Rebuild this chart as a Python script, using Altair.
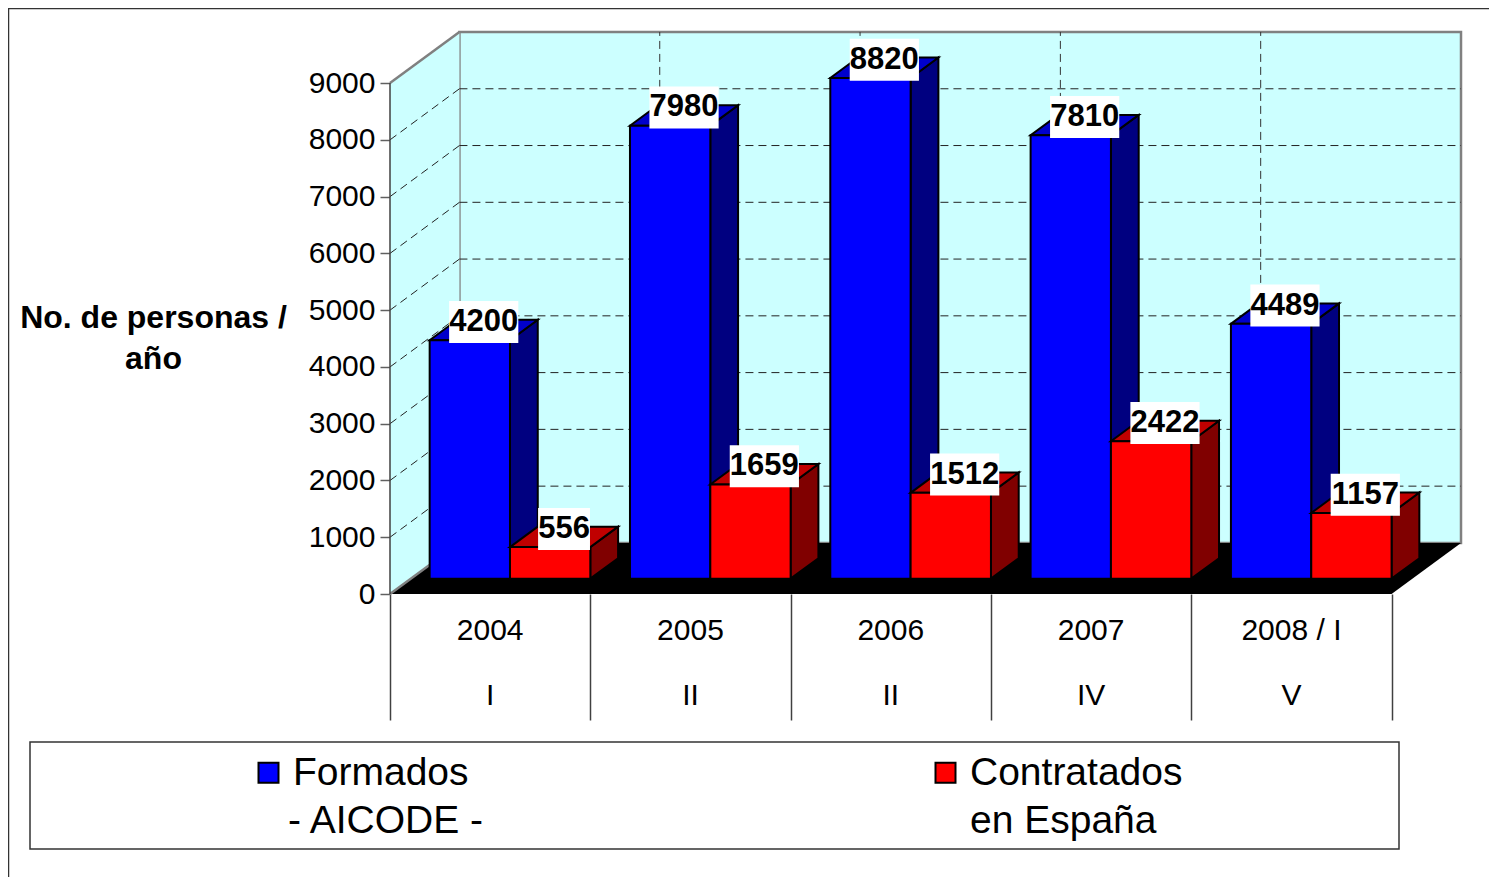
import altair as alt
import pandas as pd

# ---------- data ----------
years = ["2004", "2005", "2006", "2007", "2008 / I"]
phases = ["I", "II", "II", "IV", "V"]
formados = [4200, 7980, 8820, 7810, 4489]
contratados = [556, 1659, 1512, 2422, 1157]
series_names = ["Formados", "Contratados"]
series_second_lines = ["- AICODE -", "en España"]
y_ticks = [0, 1000, 2000, 3000, 4000, 5000, 6000, 7000, 8000, 9000]

# ---------- layout / projection ----------
FONT = "Liberation Sans"
W, H = 1071, 562
PAD_L, PAD_T = 382, 24
TOTAL_W, TOTAL_H = 1481, 869
DEPTH_Y = 900.0               # value units the back wall sits above the front
DEPTH_X = 0.3466              # category units the back wall sits right of the front
X_MAX = 5 + DEPTH_X
Y_MAX = 9000 + DEPTH_Y
PX_X = X_MAX / W
PX_Y = Y_MAX / H
D0, D1 = 0.3, 0.7             # bar depth range on the floor
GAP = 0.198                   # left gap of bar pair (in front plane)
BAR = 0.4010                  # bar width

xs = alt.Scale(domain=[0, X_MAX], nice=False, zero=False)
ys = alt.Scale(domain=[0, Y_MAX], nice=False, zero=False)


def X(f, **kw):
    return alt.X(f, type="quantitative", scale=xs, axis=None, title=None, stack=None, **kw)


def Y(f, **kw):
    return alt.Y(f, type="quantitative", scale=ys, axis=None, title=None, stack=None, **kw)


# ---------- tables ----------
bars = []
for s, vals in enumerate([formados, contratados]):
    for i, v in enumerate(vals):
        xl = i + GAP + s * BAR
        bars.append(dict(id=f"{s}-{i}", s=s, i=i, v=v, name=series_names[s], xl=xl, xr=xl + BAR,
                         y0=D0 * DEPTH_Y, y1=v + D0 * DEPTH_Y))
bars = pd.DataFrame(bars)

side_rows, top_rows = [], []
for r in bars.itertuples():
    shift = (D1 - D0) * DEPTH_X
    up = (D1 - D0) * DEPTH_Y
    side_rows += [dict(id=r.id, s=r.s, x=r.xr, lo=r.y0, hi=r.y1),
                  dict(id=r.id, s=r.s, x=r.xr + shift, lo=r.y0 + up, hi=r.y1 + up)]
    top_rows += [dict(id=r.id, s=r.s, y=r.y1, a=r.xl, b=r.xr),
                 dict(id=r.id, s=r.s, y=r.y1 + up, a=r.xl + shift, b=r.xr + shift)]
sides = pd.DataFrame(side_rows)
tops = pd.DataFrame(top_rows)

labels = bars.copy()
labels["cx"] = (labels.xl + labels.xr) / 2 + (D1 - D0) * DEPTH_X / 2
labels["cy"] = labels.y1 + (D1 - D0) * DEPTH_Y / 2 + 8 * PX_Y
labels["hw"] = labels.v.astype(str).str.len() * 8.65 * PX_X
labels["bx0"] = labels.cx - labels.hw
labels["bx1"] = labels.cx + labels.hw
labels["by0"] = labels.cy - 21 * PX_Y
labels["by1"] = labels.cy + 21 * PX_Y
labels["cyt"] = labels.cy

left_wall = pd.DataFrame({"x": [0, DEPTH_X], "lo": [0, DEPTH_Y], "hi": [9000, Y_MAX]})
back_wall = pd.DataFrame({"x": [DEPTH_X], "x2": [X_MAX], "y": [DEPTH_Y], "y2": [Y_MAX]})
floor = pd.DataFrame({"y": [0, DEPTH_Y], "a": [0, DEPTH_X], "b": [5, X_MAX]})
grid_vals = [t for t in y_ticks if 0 < t < 9000]
grid_back = pd.DataFrame({"x": DEPTH_X, "x2": X_MAX, "y": [t + DEPTH_Y for t in grid_vals]})
grid_left = pd.DataFrame({"x": 0.0, "x2": DEPTH_X, "y": grid_vals, "y2": [t + DEPTH_Y for t in grid_vals]})
grid_vert = pd.DataFrame({"x": [i + DEPTH_X for i in range(1, 5)], "y": DEPTH_Y, "y2": Y_MAX})
edges = pd.DataFrame({"x": [0.0, 0.0], "x2": [DEPTH_X, DEPTH_X], "y": [9000, 0], "y2": [Y_MAX, DEPTH_Y]})
cats = pd.DataFrame({"x": [i + 0.5 for i in range(5)], "year": years, "phase": phases})

DASH = [8, 5]
GREY = "#808080"

# ---------- layers ----------
frame_left = alt.Chart(pd.DataFrame({"a": [0]})).mark_rule(color="#333333", strokeWidth=1.5).encode(
    x=alt.value(-PAD_L + 0.5), y=alt.value(-PAD_T), y2=alt.value(TOTAL_H))
frame_top = alt.Chart(pd.DataFrame({"a": [0]})).mark_rule(color="#333333", strokeWidth=1.5).encode(
    x=alt.value(-PAD_L), x2=alt.value(TOTAL_W), y=alt.value(-PAD_T + 0.5))

axes = alt.Chart(pd.DataFrame({"x": [0.0], "y": [0.0]})).mark_point(opacity=0).encode(
    x=alt.X("x:Q", scale=xs, title=None, axis=alt.Axis(
        values=[0, 1, 2, 3, 4, 5], labels=False, domain=False, grid=False,
        tickSize=126, tickColor="#404040", tickWidth=1.5, orient="bottom")),
    y=alt.Y("y:Q", scale=ys, axis=alt.Axis(
        values=y_ticks, format="d", domain=False, grid=False, tickSize=10, tickColor="#606060",
        tickWidth=1.5, labelFont=FONT, labelFontSize=30, labelColor="black", labelPadding=5,
        labelOverlap=False, labelFlush=False, labelBound=False,
        title=["No. de personas /", "año"], titleAngle=0, titleFont=FONT, titleFontSize=32,
        titleFontWeight="bold", titleColor="black", titleAlign="center", titleBaseline="alphabetic",
        titleX=-237, titleY=295, titleLineHeight=41)),
)

lw = alt.Chart(left_wall).mark_area(color="#CCFFFF", opacity=1).encode(X("x"), Y("lo"), alt.Y2("hi"))
bw = alt.Chart(back_wall).mark_rect(fill="#CCFFFF", stroke=GREY, strokeWidth=2.5).encode(
    X("x"), alt.X2("x2"), Y("y"), alt.Y2("y2"))
fl = alt.Chart(floor).mark_area(color="black", orient="horizontal", opacity=1).encode(
    Y("y"), X("a"), alt.X2("b"))
g1 = alt.Chart(grid_back).mark_rule(color="#222222", strokeWidth=1, strokeDash=DASH).encode(
    X("x"), alt.X2("x2"), Y("y"))
g2 = alt.Chart(grid_left).mark_rule(color="#222222", strokeWidth=1, strokeDash=DASH).encode(
    X("x"), alt.X2("x2"), Y("y"), alt.Y2("y2"))
g3 = alt.Chart(grid_vert).mark_rule(color="#333333", strokeWidth=1, strokeDash=DASH).encode(
    X("x"), Y("y"), alt.Y2("y2"))
eg = alt.Chart(edges).mark_rule(color=GREY, strokeWidth=2.5).encode(
    X("x"), alt.X2("x2"), Y("y"), alt.Y2("y2"))
front_edge = alt.Chart(pd.DataFrame({"x": [0.0], "y": [0], "y2": [9000]})).mark_rule(
    color="#404040", strokeWidth=1.5).encode(X("x"), Y("y"), alt.Y2("y2"))

SIDE = ["#000080", "#800000"]
TOP = ["#0000CC", "#C00000"]
faces = []
for s in [0, 1]:
    faces.append(
        alt.Chart(sides[sides.s == s]).mark_area(
            color=SIDE[s], stroke="black", strokeWidth=2, opacity=1).encode(
            X("x"), Y("lo"), alt.Y2("hi"), detail="id:N"))
    faces.append(
        alt.Chart(tops[tops.s == s]).mark_area(
            color=TOP[s], stroke="black", strokeWidth=2, opacity=1, orient="horizontal").encode(
            Y("y"), X("a"), alt.X2("b"), detail="id:N"))
    faces.append(
        alt.Chart(bars[bars.s == s]).mark_rect(stroke="black", strokeWidth=2).encode(
            X("xl"), alt.X2("xr"), Y("y0"), alt.Y2("y1"),
            color=alt.Color("name:N", scale=alt.Scale(domain=series_names, range=["#0000FF", "#FF0000"]),
                            legend=alt.Legend(
                                title=None, orient="none", legendX=249 - 390, legendY=753 - 32,
                                direction="horizontal", columns=2, columnPadding=457,
                                symbolType="square", symbolSize=400, symbolStrokeColor="black",
                                symbolStrokeWidth=2, symbolOpacity=1,
                                labelFont=FONT, labelFontSize=39, labelColor="black",
                                labelOffset=5, labelLimit=400))))

boxes = alt.Chart(labels).mark_rect(fill="white", opacity=1).encode(
    X("bx0"), alt.X2("bx1"), Y("by0"), alt.Y2("by1"))
vtxt = alt.Chart(labels).mark_text(font=FONT, fontSize=31, fontWeight="bold", color="black",
                                   align="center", baseline="middle").encode(
    X("cx"), Y("cyt"), text="v:N")

t_year = alt.Chart(cats).mark_text(font=FONT, fontSize=30, color="black", baseline="middle").encode(
    X("x"), y=alt.value(631 - 32), text="year:N")
t_phase = alt.Chart(cats).mark_text(font=FONT, fontSize=30, color="black", baseline="middle").encode(
    X("x"), y=alt.value(696 - 32), text="phase:N")

box_legend = alt.Chart(pd.DataFrame({"a": [0]})).mark_rect(
    fill="white", stroke="#333333", strokeWidth=1.5).encode(
    x=alt.value(30 - 390), x2=alt.value(1399 - 390), y=alt.value(742 - 32), y2=alt.value(849 - 32))

second_line_layers = [
    alt.Chart(pd.DataFrame({"t": [series_second_lines[0]]})).mark_text(
        font=FONT, fontSize=39, color="black", align="left", baseline="middle").encode(
        x=alt.value(288 - 390), y=alt.value(821 - 32), text="t:N"),
    alt.Chart(pd.DataFrame({"t": [series_second_lines[1]]})).mark_text(
        font=FONT, fontSize=39, color="black", align="left", baseline="middle").encode(
        x=alt.value(970 - 390), y=alt.value(821 - 32), text="t:N"),
]

chart = alt.layer(
    frame_left, frame_top, axes, bw, lw, fl, g1, g2, g3, eg, front_edge, box_legend,
    *second_line_layers, *faces, boxes, vtxt, t_year, t_phase
).resolve_scale(x="shared", y="shared").resolve_axis(x="independent", y="independent").properties(
    width=W, height=H,
    autosize=alt.AutoSizeParams(type="none"),
    padding={"left": PAD_L, "top": PAD_T, "right": TOTAL_W - PAD_L - W, "bottom": TOTAL_H - PAD_T - H},
    background="white",
).configure_view(strokeWidth=0)

chart.save("out.html", embed_options={"renderer": "svg", "actions": False})
